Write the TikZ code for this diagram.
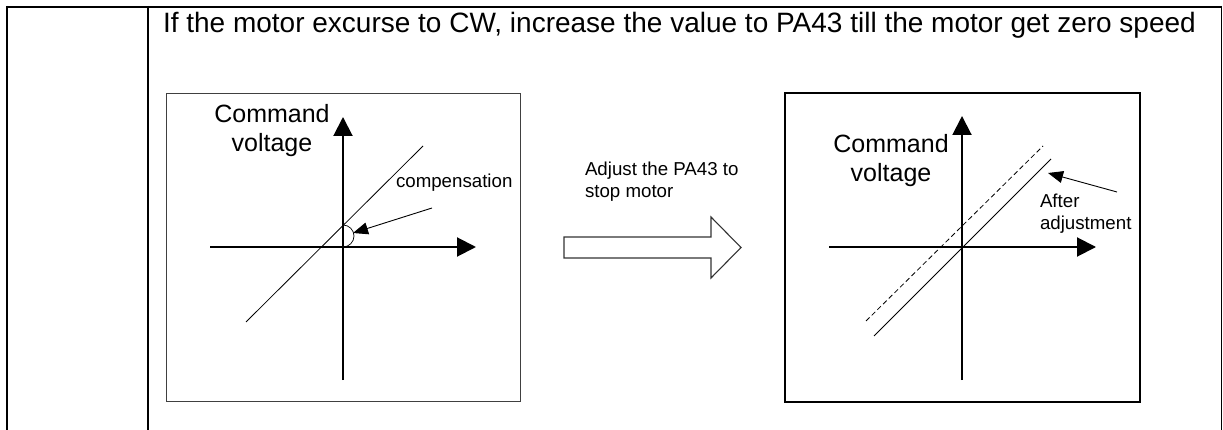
\documentclass[tikz,border=0pt]{standalone}
\usepackage{fontspec}
\setmainfont{Liberation Sans}
\usetikzlibrary{arrows.meta}
\begin{document}
\begin{tikzpicture}[x=1pt,y=-1pt,
  txt/.style={inner sep=0pt, outer sep=0pt, anchor=base west},
  bigtxt/.style={inner sep=0pt, outer sep=0pt, font=\fontsize{25}{29}\selectfont, align=center},
  smalltxt/.style={txt, font=\fontsize{18.7}{22}\selectfont},
  tableline/.style={line width=2.2pt, black},
  axis/.style={line width=2pt, -{Triangle[length=19pt,width=19pt]}},
  graph/.style={line width=0.8pt},
  pointer/.style={line width=0.9pt, -{Triangle[length=15pt,width=12pt]}},
  hollow/.style={line width=1.1pt, draw=black!80, fill=white, line join=miter}
]
\useasboundingbox (0,0) rectangle (1223,430);
% table
\coordinate (tl) at (7,6);
\coordinate (bl) at (7,430);
\coordinate (tm) at (148,6);
\coordinate (bm) at (148,430);
\coordinate (tr) at (1221.5,6);
\coordinate (br) at (1221.5,430);
\draw[tableline] (7,7) -- (1222,7);
\draw[tableline] (tl) -- (bl);
\draw[tableline] (tm) -- (bm);
\draw[line width=1.3pt] (tr) -- (br);
\node[txt, font=\fontsize{28}{32}\selectfont] (title) at (163,33) {If the motor excurse to CW, increase the value to PA43 till the motor get zero speed};

% left box
\draw[line width=0.9pt, draw=black!75] (166,93) rectangle (520,401);
\coordinate (lo) at (343,247);
\coordinate (lyb) at (343,380);
\coordinate (lyt) at (343,117);
\coordinate (lxl) at (210,247);
\coordinate (lxr) at (476,247);
\draw[axis] (lyb) -- (lyt);
\draw[axis] (lxl) -- (lxr);
\node[bigtxt, anchor=base] (lcmd) at (272,152) {Command\\voltage};
\coordinate (la) at (246,322);
\coordinate (lb) at (423,146);
\draw[graph] (la) -- (lb);
\draw[line width=0.7pt] (343,225) arc[start angle=-90, end angle=90, radius=11];
\node[smalltxt] (comp) at (396,188) {compensation};
\coordinate (cs) at (432,208);
\coordinate (ce) at (353,233);
\draw[pointer] (cs) -- (ce);

% middle arrow
\node[smalltxt, align=left] (adj) at (585,198) {Adjust the PA43 to\\stop motor};
\draw[hollow] (564,237) -- (711,237) -- (711,217) -- (741,247.5) -- (711,278) -- (711,258) -- (564,258) -- cycle;

% right box
\draw[line width=2pt] (785,93) rectangle (1140,402);
\coordinate (ryb) at (962,380);
\coordinate (ryt) at (962,116);
\coordinate (rxl) at (829,247);
\coordinate (rxr) at (1096,247);
\draw[axis] (ryb) -- (ryt);
\draw[axis] (rxl) -- (rxr);
\node[bigtxt, anchor=base] (rcmd) at (891,182) {Command\\voltage};
\coordinate (ra) at (874,336);
\coordinate (rb) at (1051,159);
\draw[graph] (ra) -- (rb);
\coordinate (da) at (866,321);
\coordinate (db) at (1043,146);
\draw[graph, dash pattern=on 5pt off 3pt] (da) -- (db);
\node[smalltxt, align=left] (after) at (1040,230) {After\\adjustment};
\coordinate (as) at (1117,192);
\coordinate (ae) at (1048,173);
\draw[pointer] (as) -- (ae);
\end{tikzpicture}
\end{document}
